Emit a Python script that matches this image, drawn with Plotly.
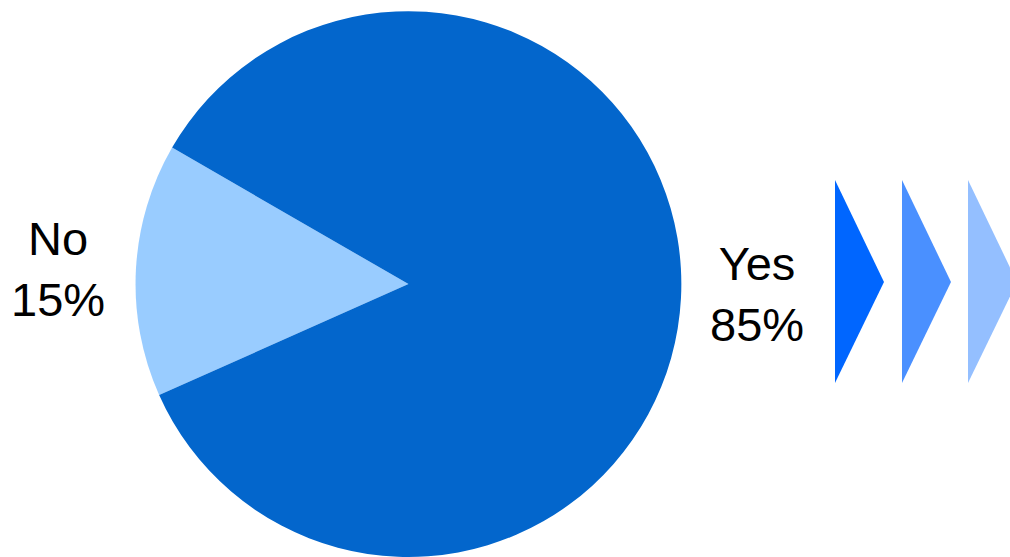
import plotly.graph_objects as go

# Survey answers and their shares (percent)
labels = ["No", "Yes"]
values = [15, 85]
slice_colors = ["#99CCFF", "#0366CC"]

# Decorative arrow heads on the right
arrow_colors = ["#0066FF", "#4A90FF", "#94BFFF"]
arrow_left_px = [835, 902, 968]

W, H = 1010, 557

fig = go.Figure(
    go.Pie(
        labels=labels,
        values=values,
        sort=False,
        direction="clockwise",
        rotation=-114,
        marker=dict(colors=slice_colors, line=dict(width=0)),
        textinfo="none",
        hoverinfo="label+percent",
        showlegend=False,
        domain=dict(x=[0.1342, 0.6746], y=[0.0, 0.98]),
    )
)

# Outside labels built from the data
total = sum(values)
label_pos = {"No": (58 / W, 1 - 269 / H), "Yes": (757 / W, 1 - 294 / H)}
for lab, val in zip(labels, values):
    x, y = label_pos[lab]
    fig.add_annotation(
        x=x, y=y, xref="paper", yref="paper",
        text=f"{lab}<br>{round(100 * val / total)}%",
        showarrow=False, xanchor="center", yanchor="middle",
        font=dict(family="Liberation Sans, Arial, sans-serif", size=47, color="#000000"),
    )

# Triangular arrow heads
top, tip, bottom, depth = 180, 282, 383, 49
for left, col in zip(arrow_left_px, arrow_colors):
    pts = [(left, top), (left + depth, tip), (left, bottom)]
    path = "M " + " L ".join(f"{px / W:.5f},{1 - py / H:.5f}" for px, py in pts) + " Z"
    fig.add_shape(type="path", path=path, xref="paper", yref="paper",
                  fillcolor=col, line=dict(width=0), layer="above")

fig.update_layout(
    width=W, height=H,
    margin=dict(l=0, r=0, t=0, b=0),
    paper_bgcolor="#FFFFFF",
    plot_bgcolor="#FFFFFF",
)

fig.write_html("out.html")
